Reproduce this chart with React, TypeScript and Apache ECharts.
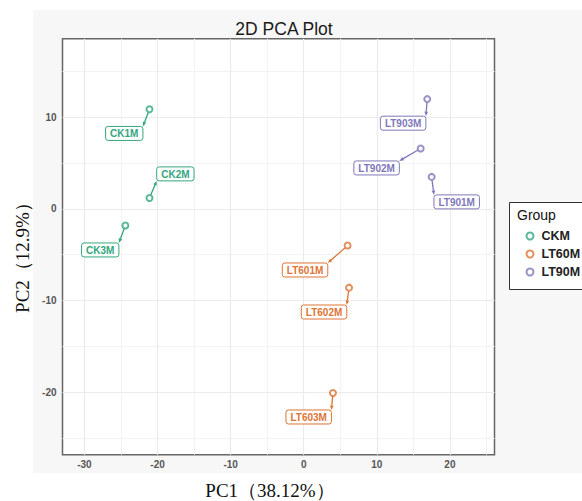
import React, { useEffect, useRef } from 'react';
import * as echarts from 'echarts';

const groupNames = ['CKM', 'LT60M', 'LT90M'];
const groupColors = ['#33A67E', '#DD7434', '#7E78B9'];
const sampleNames = ['CK1M', 'CK2M', 'CK3M', 'LT601M', 'LT602M', 'LT603M', 'LT901M', 'LT902M', 'LT903M'];
const sampleGroup = [0, 0, 0, 1, 1, 1, 2, 2, 2];
const pc1 = [-21.1, -21.1, -24.4, 6.0, 6.2, 4.0, 17.5, 16.0, 16.9];
const pc2 = [10.9, 1.2, -1.8, -4.0, -8.6, -20.1, 3.5, 6.6, 12.0];
const labelPc1 = [-24.55, -17.56, -27.84, 0.18, 2.78, 0.68, 20.93, 9.97, 13.6];
const labelPc2 = [8.25, 3.83, -4.48, -6.67, -11.26, -22.73, 0.77, 4.48, 9.37];
const xTicks = [-30, -20, -10, 0, 10, 20];
const yTicks = [-20, -10, 0, 10];
const xMinor = [-25, -15, -5, 5, 15, 25];
const yMinor = [-25, -15, -5, 5, 15];
const xRange = [-33.0, 26.1];
const yRange = [-26.85, 18.6];

const LABEL_FONT = 'bold 10px "Liberation Sans", Arial, sans-serif';

let measureCtx: CanvasRenderingContext2D | null = null;
function measure(text: string): number {
  if (!measureCtx) {
    const c = document.createElement('canvas');
    measureCtx = c.getContext('2d');
  }
  if (!measureCtx) return text.length * 7;
  measureCtx.font = LABEL_FONT;
  return measureCtx.measureText(text).width;
}

export default function App() {
  const ref = useRef<HTMLDivElement>(null);
  useEffect(() => {
    if (!ref.current) return;
    const chart = echarts.init(ref.current, undefined, { renderer: 'svg' });

    const scatterSeries = groupNames.map((g, gi) => ({
      type: 'scatter',
      name: g,
      symbol: 'emptyCircle',
      symbolSize: 6,
      z: 8,
      itemStyle: { color: groupColors[gi], borderWidth: 1.4 },
      data: sampleNames
        .map((n, i) => ({ i, n }))
        .filter((d) => sampleGroup[d.i] === gi)
        .map((d) => ({ name: d.n, value: [pc1[d.i], pc2[d.i]] })),
    }));

    const gridLines = {
      type: 'scatter',
      name: '_grid',
      data: [],
      silent: true,
      z: 1,
      markLine: {
        silent: true,
        z: 1,
        symbol: 'none',
        label: { show: false },
        animation: false,
        data: [
          ...xMinor.map((v) => ({ xAxis: v, lineStyle: { color: '#F3F3F3', width: 1, type: 'solid' } })),
          ...yMinor.map((v) => ({ yAxis: v, lineStyle: { color: '#F3F3F3', width: 1, type: 'solid' } })),
          ...xTicks.map((v) => ({ xAxis: v, lineStyle: { color: '#EBEBEB', width: 1.2, type: 'solid' } })),
          ...yTicks.map((v) => ({ yAxis: v, lineStyle: { color: '#EBEBEB', width: 1.2, type: 'solid' } })),
        ],
      },
    };

    const labelSeries = {
      type: 'custom',
      name: '_labels',
      z: 10,
      clip: false,
      silent: true,
      encode: { x: [0, 2], y: [1, 3] },
      data: sampleNames.map((n, i) => [pc1[i], pc2[i], labelPc1[i], labelPc2[i]]),
      renderItem: (params: any, api: any) => {
        const i = params.dataIndex;
        const p = api.coord([api.value(0), api.value(1)]);
        const c = api.coord([api.value(2), api.value(3)]);
        const name = sampleNames[i];
        const color = groupColors[sampleGroup[i]];
        const w = measure(name) + 9;
        const h = 14;
        const x0 = c[0] - w / 2;
        const y0 = c[1] - h / 2;
        const x1 = x0 + w;
        const y1 = y0 + h;
        const ex = Math.min(Math.max(p[0], x0), x1);
        const ey = Math.min(Math.max(p[1], y0), y1);
        const dx = ex - p[0];
        const dy = ey - p[1];
        const len = Math.hypot(dx, dy) || 1;
        const ux = dx / len;
        const uy = dy / len;
        const sx = p[0] + ux * 3.5;
        const sy = p[1] + uy * 3.5;
        const bx = ex - ux * 4.5;
        const by = ey - uy * 4.5;
        const px = -uy * 1.8;
        const py = ux * 1.8;
        return {
          type: 'group',
          children: [
            {
              type: 'line',
              shape: { x1: sx, y1: sy, x2: bx, y2: by },
              style: { stroke: color, lineWidth: 1.3 },
            },
            {
              type: 'polygon',
              shape: { points: [[ex, ey], [bx + px, by + py], [bx - px, by - py]] },
              style: { fill: color },
            },
            {
              type: 'rect',
              shape: { x: x0, y: y0, width: w, height: h, r: 2.5 },
              style: { fill: '#ffffff', stroke: color, lineWidth: 1 },
            },
            {
              type: 'text',
              style: {
                x: c[0],
                y: c[1] + 0.5,
                text: name,
                fill: color,
                align: 'center',
                verticalAlign: 'middle',
                font: LABEL_FONT,
              },
            },
          ],
        };
      },
    };

    const option: any = {
      animation: false,
      title: {
        text: '2D PCA Plot',
        left: 279,
        top: 15,
        textAlign: 'center',
        textStyle: {
          fontFamily: '"Liberation Sans", Arial, sans-serif',
          fontSize: 17.5,
          fontWeight: 'normal',
          color: '#1a1a1a',
        },
      },
      grid: {
        left: 62.5,
        right: 87.5,
        top: 38.7,
        bottom: 46.3,
        show: true,
        backgroundColor: '#ffffff',
        borderColor: '#666666',
        borderWidth: 1.5,
      },
      xAxis: {
        type: 'value',
        min: xRange[0],
        max: xRange[1],
        splitLine: { show: false },
        axisLine: { show: false },
        axisTick: { show: true, customValues: xTicks, length: 3.5, lineStyle: { color: '#555', width: 1 } },
        axisLabel: {
          customValues: xTicks,
          margin: 5,
          fontSize: 10,
          fontWeight: 'bold',
          color: '#555555',
          fontFamily: '"Liberation Sans", Arial, sans-serif',
        },
      },
      yAxis: {
        type: 'value',
        min: yRange[0],
        max: yRange[1],
        splitLine: { show: false },
        axisLine: { show: false },
        axisTick: { show: true, customValues: yTicks, length: 3.5, lineStyle: { color: '#555', width: 1 } },
        axisLabel: {
          customValues: yTicks,
          margin: 6,
          fontSize: 10,
          fontWeight: 'bold',
          color: '#555555',
          fontFamily: '"Liberation Sans", Arial, sans-serif',
        },
      },
      legend: {
        data: groupNames,
        orient: 'vertical',
        left: 525.5,
        top: 229,
        padding: 0,
        itemWidth: 7,
        itemHeight: 7,
        itemGap: 4,
        icon: 'emptyCircle',
        itemStyle: { borderWidth: 1.4 },
        textStyle: {
          fontSize: 12.5,
          lineHeight: 14,
          fontWeight: 'bold',
          color: '#222',
          padding: [0, 0, 0, 3],
          fontFamily: '"Liberation Sans", Arial, sans-serif',
        },
      },
      graphic: {
        elements: [
          {
            type: 'rect',
            z: -10,
            silent: true,
            shape: { x: 33, y: 10, width: 560, height: 463 },
            style: { fill: '#F7F7F7' },
          },
          {
            type: 'rect',
            z: 1,
            silent: true,
            shape: { x: 509.5, y: 202.5, width: 100, height: 87 },
            style: { fill: '#ffffff', stroke: '#333333', lineWidth: 1 },
          },
          {
            type: 'text',
            z: 2,
            silent: true,
            style: {
              x: 517,
              y: 215,
              text: 'Group',
              fill: '#111',
              font: '14px "Liberation Sans", Arial, sans-serif',
              verticalAlign: 'middle',
            },
          },
          {
            type: 'text',
            z: 2,
            silent: true,
            style: {
              x: 270,
              y: 490,
              text: 'PC1（38.12%）',
              fill: '#111',
              font: '19px "Liberation Serif", "Times New Roman", serif',
              align: 'center',
              verticalAlign: 'middle',
            },
          },
          {
            type: 'text',
            z: 2,
            silent: true,
            x: 22,
            y: 253,
            rotation: Math.PI / 2,
            style: {
              x: 0,
              y: 0,
              text: 'PC2（12.9%）',
              fill: '#111',
              font: '19px "Liberation Serif", "Times New Roman", serif',
              align: 'center',
              verticalAlign: 'middle',
            },
          },
        ],
      },
      series: [gridLines, ...scatterSeries, labelSeries],
    };

    chart.setOption(option);
    return () => chart.dispose();
  }, []);

  return (
    <div
      ref={ref}
      style={{ position: 'fixed', left: 0, top: 0, width: 582, height: 501, background: '#ffffff' }}
    />
  );
}
